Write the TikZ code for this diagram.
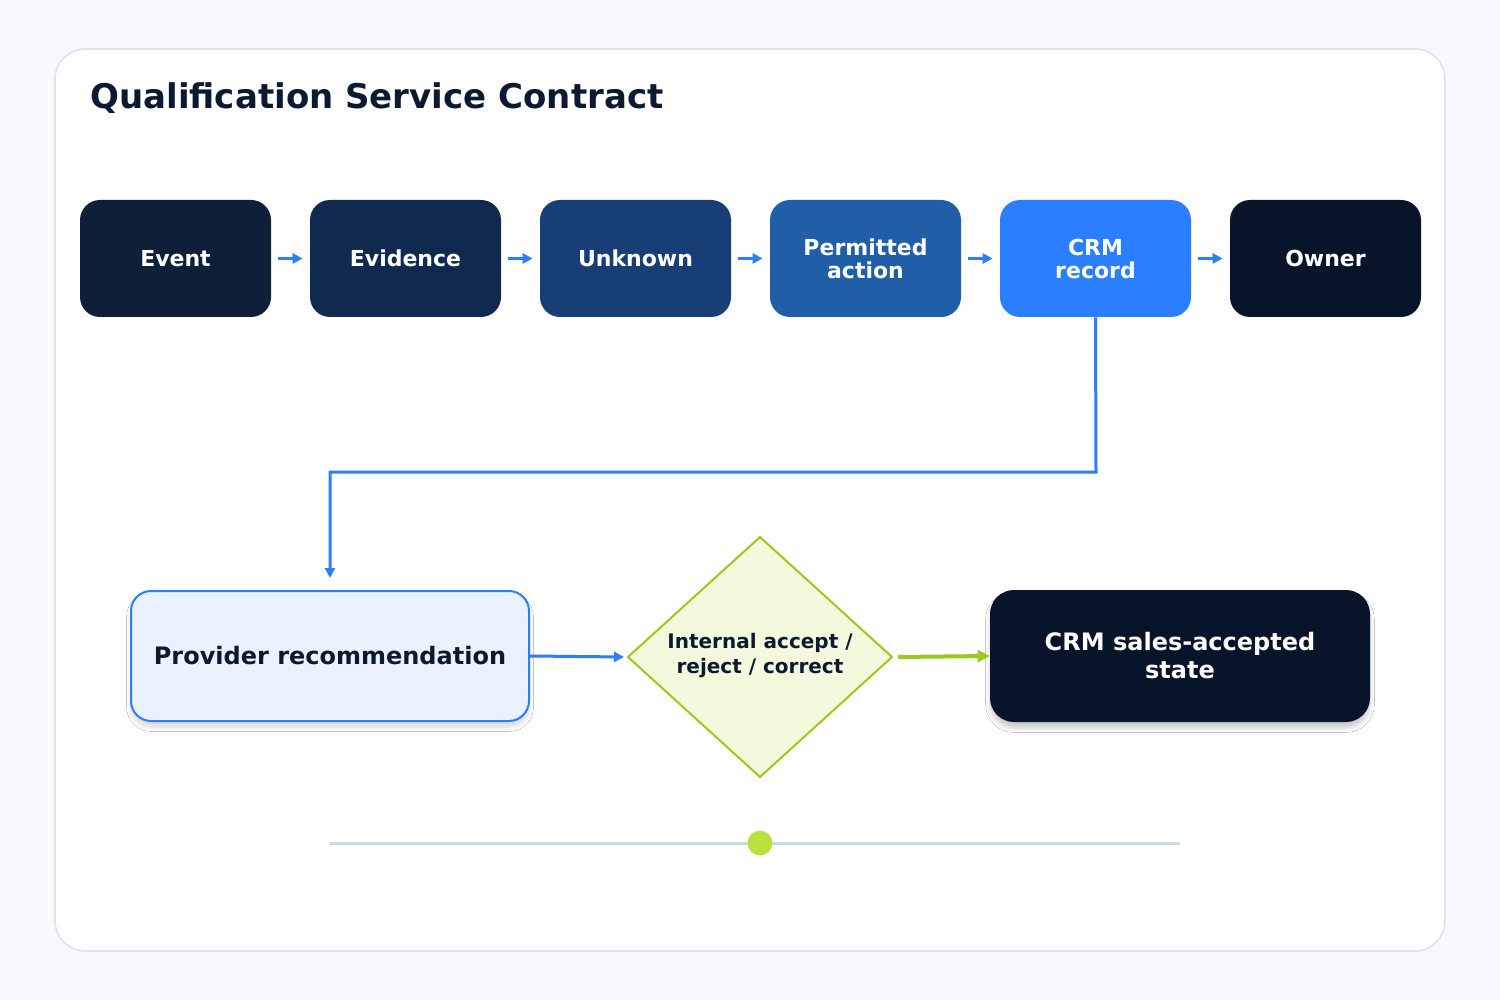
\documentclass[tikz,border=0pt]{standalone}
\usepackage{fontspec}
\setmainfont{DejaVu Sans}
\usetikzlibrary{arrows.meta,shadows.blur}
\definecolor{bgc}{HTML}{F7F9FC}
\definecolor{cardb}{HTML}{DDE3EE}
\definecolor{cA}{HTML}{0F1F3A}
\definecolor{cB}{HTML}{102A4F}
\definecolor{cC}{HTML}{173F75}
\definecolor{cD}{HTML}{215EA8}
\definecolor{cE}{HTML}{2B7FFF}
\definecolor{cF}{HTML}{08142A}
\definecolor{provf}{HTML}{EAF2FF}
\definecolor{diaf}{HTML}{F2F9DC}
\definecolor{diab}{HTML}{9DC91E}
\definecolor{linec}{HTML}{CBD8E6}
\definecolor{dotc}{HTML}{B9E33A}
\definecolor{titlec}{HTML}{0B1A30}
\tikzset{
 topbox/.style={rounded corners=10pt,minimum width=95.5pt,minimum height=58.5pt,inner sep=0pt,text=white,font=\bfseries\fontsize{11}{11.5}\selectfont,align=center},
 flow/.style={draw=cE,line width=1.5pt,-{Triangle[length=5pt,width=5pt]}},
}
\begin{document}
\begin{tikzpicture}[x=0.5pt,y=-0.5pt]
\useasboundingbox[fill=bgc] (0,0) rectangle (1500,1000);
\draw[cardb,fill=white,line width=0.8pt,rounded corners=15pt] (55,49) rectangle (1445,951);
\node[anchor=west,text=titlec,font=\bfseries\fontsize{17}{20}\selectfont,inner sep=0pt] (title) at (90,98) {Qualification Service Contract};
\node[topbox,fill=cA] (n1) at (175.5,258.5) {Event};
\node[topbox,fill=cB] (n2) at (405.5,258.5) {Evidence};
\node[topbox,fill=cC] (n3) at (635.5,258.5) {Unknown};
\node[topbox,fill=cD] (n4) at (865.5,258.5) {Permitted\\action};
\node[topbox,fill=cE] (n5) at (1095.5,258.5) {CRM\\record};
\node[topbox,fill=cF] (n6) at (1325.5,258.5) {Owner};
\foreach \a/\b in {n1/n2,n2/n3,n3/n4,n4/n5,n5/n6}
 \draw[flow] ([xshift=3.5pt]\a.east) -- ([xshift=-3.5pt]\b.west);
\node[draw=cE,fill=provf,line width=1pt,rounded corners=10pt,minimum width=199pt,minimum height=65pt,font=\bfseries\fontsize{12}{14}\selectfont,text=titlec,blur shadow={shadow blur steps=8,shadow xshift=0pt,shadow yshift=-3pt,shadow opacity=15}] (prov) at (330,656) {Provider recommendation};
\coordinate (d) at (760,657);
\draw[diab,fill=diaf,line width=1pt] (628,657) coordinate (dw) -- (760,537) -- (892,657) coordinate (de) -- (760,777) -- cycle;
\node[font=\bfseries\fontsize{10}{12.5}\selectfont,text=titlec,align=center] (dt) at (760,656) {Internal accept /\\reject / correct};
\node[fill=cF,rounded corners=12pt,minimum width=190pt,minimum height=66pt,text=white,font=\bfseries\fontsize{12}{14}\selectfont,align=center,blur shadow={shadow blur steps=8,shadow xshift=0pt,shadow yshift=-3pt,shadow opacity=20}] (crm) at (1180,656) {CRM sales-accepted\\state};
\draw[flow] (n5.south) -- (1096,472) -- (330,472) -- ([yshift=6pt]prov.north);
\draw[flow] (prov.east) -- ([xshift=-2pt]dw);
\draw[draw=diab,line width=2pt,-{Triangle[length=6pt,width=6pt]}] ([xshift=3pt]de) -- (crm.west);
\draw[linec,line width=1.5pt] (330,843) coordinate (l1) -- (1180,843) coordinate (l2);
\fill[dotc] (760,843) circle (6.2pt);
\end{tikzpicture}
\end{document}
